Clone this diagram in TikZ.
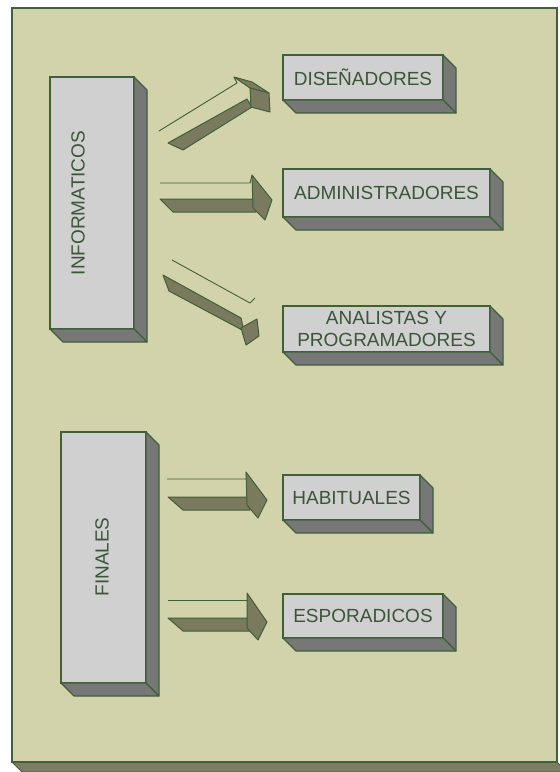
\documentclass[tikz,border=0pt]{standalone}
\usepackage{fontspec}
\setmainfont{Liberation Sans}
\usetikzlibrary{calc}
\definecolor{panel}{HTML}{D3D3AB}
\definecolor{panelside}{HTML}{7D7D64}
\definecolor{edge}{HTML}{3F6039}
\definecolor{front}{HTML}{D0D0D0}
\definecolor{side}{HTML}{777777}
\definecolor{arrowfill}{HTML}{7A7A5E}
\definecolor{ink}{HTML}{3A5638}
\begin{document}
\begin{tikzpicture}[x=1pt,y=-1pt,
  box/.style={draw=edge, line width=1.3pt, fill=front, inner sep=0pt, outer sep=0pt,
              font=\fontsize{19}{22.5}\selectfont, text=ink, align=center},
  face/.style={draw=edge, line width=1.1pt, fill=side, line join=round},
  arrface/.style={draw=edge, line width=1pt, fill=arrowfill, line join=round},
  arrline/.style={draw=edge, line width=0.9pt, line join=round},
  lbl/.style={font=\fontsize{19}{22.5}\selectfont, text=ink, inner sep=0pt}]
\useasboundingbox (0,0) rectangle (560,772);
\fill[white] (0,0) rectangle (560,772);

% background board with its lower edge
\filldraw[fill=panelside, draw=edge, line width=1pt] (12,762) -- (557,762) -- (567,772) -- (22,772) -- cycle;
\filldraw[fill=panel, draw=edge, line width=1.5pt] (12,8) rectangle (557,762);

% user groups
\node[box, minimum width=84pt, minimum height=252pt] (inf) at (92,203) {};
\node[lbl, rotate=90] (inft) at (78,203) {INFORMATICOS};
\node[box, minimum width=85pt, minimum height=251pt] (fin) at (103.5,557.5) {};
\node[lbl, rotate=90] (fint) at (102,557) {FINALES};

% user types
\node[box, minimum width=160pt, minimum height=45pt] (dis) at (363,77.5) {DISEÑADORES};
\node[box, minimum width=207pt, minimum height=48pt] (adm) at (386.5,193) {ADMINISTRADORES};
\node[box, minimum width=207pt, minimum height=46pt] (ana) at (386.5,329) {ANALISTAS Y\\PROGRAMADORES};
\node[box, minimum width=137pt, minimum height=45pt] (hab) at (351.5,497.5) {HABITUALES};
\node[box, minimum width=160pt, minimum height=44pt] (esp) at (363,616) {ESPORADICOS};

% extruded sides of every block
\foreach \n in {inf,fin,dis,adm,ana,hab,esp}{
  \draw[face] (\n.north east) -- ++(13,13) -- ($(\n.south east)+(13,13)$) -- (\n.south east) -- cycle;
  \draw[face] (\n.south west) -- (\n.south east) -- ($(\n.south east)+(13,13)$) -- ($(\n.south west)+(13,13)$) -- cycle;
}

% block arrows: INFORMATICOS -> DISEÑADORES
\draw[arrline] (159,131) -- (237,83) -- (234,77);
\draw[arrface] (168,143) -- (247,99) -- (252,107) -- (183,150) -- cycle;
\draw[arrface] (234,77) -- (252,82) -- (269,93) -- (250,88) -- cycle;
\draw[arrface] (250,88) -- (269,93) -- (270,112) -- (251,107) -- cycle;

% INFORMATICOS -> ADMINISTRADORES
\draw[arrline] (160,183) -- (250,183) -- (252,175);
\draw[arrface] (160,199) -- (253,199) -- (256,212) -- (173,212) -- cycle;
\draw[arrface] (252,175) -- (272,200) -- (265,220) -- (253,208) -- cycle;

% INFORMATICOS -> ANALISTAS Y PROGRAMADORES
\draw[arrline] (172,260) -- (250,303) -- (255,298);
\draw[arrface] (163,275) -- (241,318) -- (244,331) -- (169,291) -- cycle;
\draw[arrface] (241,328) -- (257,319) -- (259,336) -- (246,345) -- cycle;

% FINALES -> HABITUALES
\draw[arrline] (167,479) -- (247,479) -- (246,472);
\draw[arrface] (168,497) -- (247,497) -- (250,510) -- (183,510) -- cycle;
\draw[arrface] (246,472) -- (267,500) -- (258,518) -- (247,505) -- cycle;

% FINALES -> ESPORADICOS
\draw[arrline] (168,600) -- (247,600) -- (247,593);
\draw[arrface] (168,618) -- (247,618) -- (250,631) -- (183,631) -- cycle;
\draw[arrface] (247,593) -- (267,622) -- (258,640) -- (247,628) -- cycle;
\end{tikzpicture}
\end{document}
